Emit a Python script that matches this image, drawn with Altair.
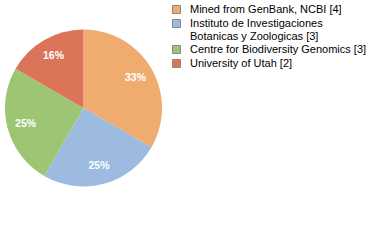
import altair as alt
import pandas as pd

categories = ["Mined from GenBank, NCBI [4]",
              "Instituto de Investigaciones\nBotanicas y Zoologicas [3]",
              "Centre for Biodiversity Genomics [3]",
              "University of Utah [2]"]
counts = [4, 3, 3, 2]
colors = ["#efac6e", "#9dbbe0", "#9dc574", "#db7459"]

df = pd.DataFrame({"cat": categories, "count": counts, "order": range(len(counts))})
total = sum(counts)

base = alt.Chart(df).encode(
    theta=alt.Theta("count:Q", stack=True),
    order=alt.Order("order:Q"),
)

pie = base.mark_arc(outerRadius=78.5).encode(
    color=alt.Color("cat:N", sort=categories,
                    scale=alt.Scale(domain=categories, range=colors),
                    legend=alt.Legend(title=None, orient="none", legendX=171, legendY=4,
                                      symbolType="square", symbolSize=64,
                                      symbolStrokeColor="#888888", symbolStrokeWidth=1,
                                      labelFont="Liberation Sans", labelFontSize=11,
                                      labelColor="#000000", labelLimit=300,
                                      rowPadding=1, labelOffset=8,
                                      labelExpr="split(datum.label, '\\n')"))
)

text = base.transform_calculate(
    pct=f"floor(datum.count / {total} * 100) + '%'"
).mark_text(radius=60, font="Liberation Sans", fontSize=10.5, fontWeight="bold",
            color="white").encode(text="pct:N")

chart = (pie + text).properties(width=167, height=216, padding=0).configure_view(stroke=None)

chart.save("out.html", embed_options={"renderer": "svg", "actions": False})
